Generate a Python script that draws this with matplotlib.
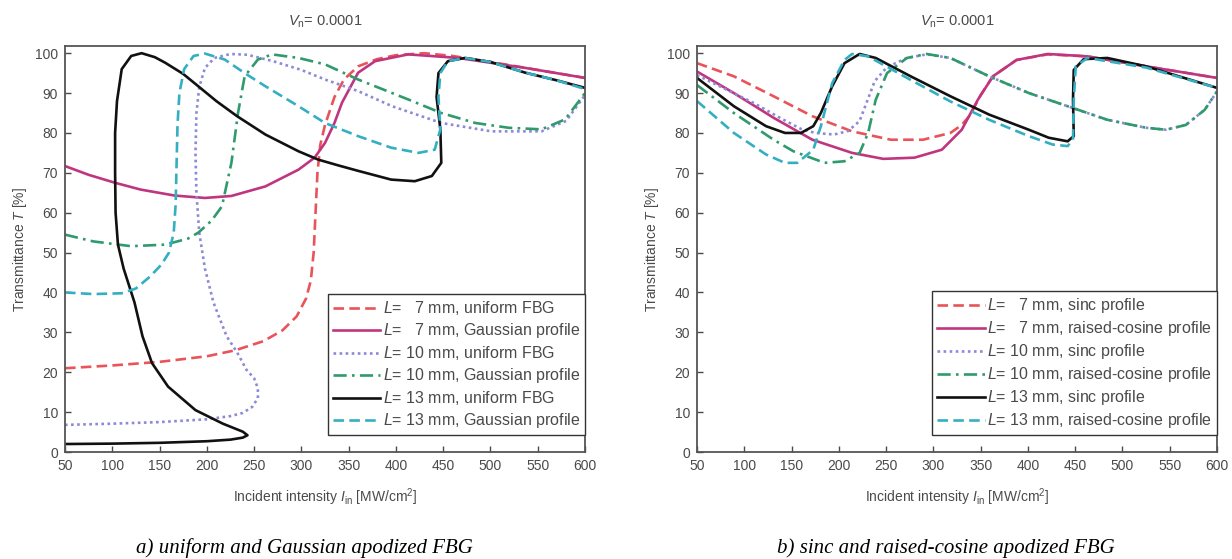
import matplotlib
matplotlib.use("Agg")
import matplotlib.pyplot as plt

plt.rcParams['font.family'] = ['Liberation Sans', 'DejaVu Sans']
plt.rcParams['mathtext.fontset'] = 'custom'
plt.rcParams['mathtext.rm'] = 'Liberation Sans'
plt.rcParams['mathtext.it'] = 'Liberation Sans:italic'

# ---- panel a) uniform and Gaussian apodized FBG ----
a7u_x = [50, 100, 150, 200, 230, 260, 280, 295, 305, 310, 313, 315, 317, 320, 325, 335, 345, 360, 380, 400, 430, 460, 500, 550, 600]
a7u_y = [21, 21.7, 22.6, 24, 25.5, 27.8, 30.5, 34, 38.5, 43, 50, 60, 70, 77, 82, 89, 93.4, 96.7, 98.5, 99.5, 100, 99.3, 97.8, 95.8, 93.8]

a7g_x = [50, 75, 103, 130, 166, 198, 226, 262, 297, 314, 325, 335, 343, 360, 378, 413, 466, 537, 600]
a7g_y = [71.7, 69.5, 67.5, 65.8, 64.3, 63.7, 64.2, 66.6, 70.8, 73.8, 77.5, 82.5, 87.6, 95.1, 98, 99.7, 98.8, 96.3, 93.8]

a10u_x = [50, 100, 150, 200, 225, 238, 248, 254, 254, 250, 242, 232, 221, 207, 198, 192, 189, 188, 189, 192, 198, 208, 225, 243, 270, 300, 325, 360, 396, 448, 501, 554, 580, 600]
a10u_y = [6.8, 7.1, 7.5, 8.2, 9, 9.8, 11.3, 13.5, 16, 18.5, 20.6, 25, 29, 37.5, 46, 55, 65, 75, 85, 91.5, 96.3, 98.8, 99.8, 99.6, 98, 95.8, 93.4, 90.5, 86.7, 82.5, 80.4, 80.4, 83, 89.5]

a10g_x = [50, 80, 120, 156, 180, 191, 205, 216, 226, 233, 240, 254, 269, 297, 325, 360, 413, 448, 484, 519, 554, 579, 600]
a10g_y = [54.5, 52.8, 51.6, 52, 53.5, 55, 58, 61.6, 72.5, 85, 94.2, 98.4, 99.7, 98.8, 97.2, 93.4, 88.4, 85, 82.5, 81.3, 80.9, 83.4, 90]

a13u_x = [50, 100, 150, 200, 225, 238, 243, 238, 217, 188, 159, 142, 132, 123.5, 112, 106, 103.5, 103, 103, 105, 110, 120, 131, 145, 156, 175, 191, 210, 232, 262, 297, 318, 340, 360, 395, 420, 438, 448, 447, 443, 445, 455, 473, 500, 537, 570, 600]
a13u_y = [2, 2.1, 2.3, 2.7, 3.1, 3.6, 4.2, 5.1, 7.1, 10.5, 16.4, 22.3, 29, 37.5, 46, 52, 60, 70, 80, 88, 96, 99.3, 100, 99, 97.6, 94.8, 91.7, 88, 84.2, 79.6, 75.4, 73.3, 71.8, 70.5, 68.3, 67.9, 69.2, 72.5, 80.9, 89, 95, 98, 98.8, 97.8, 95.1, 93.2, 91.3]

a13g_x = [50, 80, 110, 125, 140, 152, 160, 165, 167, 168, 169, 171, 176, 186, 198, 219, 240, 262, 297, 325, 360, 395, 424, 441, 447, 445, 447, 455, 473, 500, 537, 570, 600]
a13g_y = [40, 39.6, 39.8, 41, 44, 47, 50, 55, 62, 72, 82, 90, 96, 99.3, 99.9, 98.4, 95, 91.7, 86.7, 82.5, 79.2, 76.3, 75, 75.8, 80.9, 89, 95, 98, 98.8, 97.8, 95.1, 93.2, 91]

labels_a = [r'$L$=   7 mm, uniform FBG', r'$L$=   7 mm, Gaussian profile',
            r'$L$= 10 mm, uniform FBG', r'$L$= 10 mm, Gaussian profile',
            r'$L$= 13 mm, uniform FBG', r'$L$= 13 mm, Gaussian profile']

# ---- panel b) sinc and raised-cosine apodized FBG ----
b7s_x = [50, 89, 131, 172, 214, 255, 289, 318, 330, 339, 350, 363, 388, 421, 463, 525, 600]
b7s_y = [97.5, 94.2, 89.2, 84.2, 80.4, 78.3, 78.3, 80, 82, 84.5, 89.5, 94.2, 98.3, 99.7, 99.2, 96.7, 93.8]

b7r_x = [50, 89, 131, 172, 214, 247, 280, 309, 330, 347, 363, 388, 421, 463, 525, 600]
b7r_y = [95.4, 90, 83.8, 78.3, 75, 73.5, 73.8, 75.8, 80.8, 88.3, 94.2, 98.3, 99.8, 99.2, 96.7, 93.8]

b10s_x = [50, 80, 110, 140, 160, 175, 195, 210, 222, 230, 238, 251, 272, 293, 318, 359, 401, 442, 484, 525, 546, 567, 587, 600]
b10s_y = [94.5, 91, 87.5, 83.5, 81, 80, 79.6, 80.5, 83, 88, 93, 96.5, 98.8, 99.7, 98.8, 94.2, 90, 86.7, 83.3, 81.3, 80.8, 82, 85.8, 90.4]

b10r_x = [50, 89, 131, 152, 185, 206, 222, 231, 239, 251, 272, 293, 318, 359, 401, 442, 484, 525, 546, 567, 587, 600]
b10r_y = [92, 85, 78.3, 75.4, 72.5, 72.9, 75, 80, 88.3, 95, 98.8, 99.8, 98.8, 94.2, 90, 86.7, 83.3, 81.3, 80.8, 82, 85.8, 90.4]

b13s_x = [50, 89, 123, 143, 160, 173, 181, 193, 206, 222, 239, 276, 318, 359, 401, 422, 442, 448.5, 447.7, 448.5, 459, 484, 525, 600]
b13s_y = [93.8, 86.7, 81.7, 80, 80, 81.7, 85, 91.7, 97.5, 99.8, 98.8, 94.2, 89.2, 84.6, 80.8, 78.8, 77.9, 79.2, 88.3, 95.8, 98.5, 98.8, 96.7, 91.3]

b13r_x = [50, 89, 123, 143, 156, 173, 181, 193, 206, 214, 231, 276, 318, 359, 401, 426, 442, 447.7, 448.5, 450.6, 463, 525, 600]
b13r_y = [88, 80, 74.6, 72.5, 72.5, 75.8, 81.7, 92.5, 98.3, 99.8, 99.2, 93.3, 87.9, 83.3, 79.2, 77.1, 76.7, 78.3, 88.3, 96.7, 98.8, 96.4, 91.3]

labels_b = [r'$L$=   7 mm, sinc profile', r'$L$=   7 mm, raised-cosine profile',
            r'$L$= 10 mm, sinc profile', r'$L$= 10 mm, raised-cosine profile',
            r'$L$= 13 mm, sinc profile', r'$L$= 13 mm, raised-cosine profile']

# line styles shared by both panels (same order as legend)
colors = ['#e8545a', '#c0357f', '#8c8ad6', '#2f9a6c', '#111111', '#34afc2']
styles = [(0, (4, 2)), '-', (0, (1, 1.3)), (0, (5, 2, 1, 2)), '-', (0, (4, 2))]

series_a = [(a7u_x, a7u_y), (a7g_x, a7g_y), (a10u_x, a10u_y),
            (a10g_x, a10g_y), (a13u_x, a13u_y), (a13g_x, a13g_y)]
series_b = [(b7s_x, b7s_y), (b7r_x, b7r_y), (b10s_x, b10s_y),
            (b10r_x, b10r_y), (b13s_x, b13s_y), (b13r_x, b13r_y)]

fig = plt.figure(figsize=(12.32, 5.59), dpi=100)
ax1 = fig.add_axes([65/1232, 107/559, 520/1232, 406/559])
ax2 = fig.add_axes([697/1232, 107/559, 520/1232, 406/559])

grey = '#4a4a4a'

def draw_panel(ax, series, labels):
    for (x, y), c, ls, lab in zip(series, colors, styles, labels):
        ax.plot(x, y, color=c, linestyle=ls, linewidth=1.9, label=lab)
    ax.set_xlim(50, 600)
    ax.set_ylim(0, 101.8)
    ax.set_xticks(range(50, 601, 50))
    ax.set_yticks(range(0, 101, 10))
    ax.tick_params(direction='in', length=4, width=1, colors=grey,
                   labelsize=10, top=False, right=False)
    ax.tick_params(axis='y', pad=5)
    ax.tick_params(axis='x', pad=5)
    for s in ax.spines.values():
        s.set_color('#555555')
        s.set_linewidth(1.3)
    ax.set_xlabel(r'Incident intensity $I_\mathrm{in}$ [MW/cm$^2$]', fontsize=10, color=grey)
    ax.xaxis.set_label_coords(0.5, -0.084)
    ax.set_ylabel(r'Transmittance $T$ [%]', fontsize=10, color=grey)
    ax.yaxis.set_label_coords(-0.069, 0.5)
    ax.text(0.5, 1.059, r'$V_\mathrm{n}$= 0.0001', transform=ax.transAxes,
            ha='center', va='center', fontsize=10.5, color=grey)
    leg = ax.legend(loc='lower right', bbox_to_anchor=(1.0, 0.042),
                    borderaxespad=0, fontsize=11.5, handlelength=3.0,
                    handletextpad=0.15, labelspacing=0.25, fancybox=False,
                    framealpha=1, borderpad=0.3)
    leg.get_frame().set_edgecolor('#333333')
    leg.get_frame().set_linewidth(1.0)
    for t in leg.get_texts():
        t.set_color(grey)

draw_panel(ax1, series_a, labels_a)
draw_panel(ax2, series_b, labels_b)

fig.text(304/1232, 1 - 548/559, 'a) uniform and Gaussian apodized FBG',
         ha='center', va='center', fontsize=15, style='italic',
         family=['Liberation Serif', 'DejaVu Serif'])
fig.text(946/1232, 1 - 548/559, 'b) sinc and raised-cosine apodized FBG',
         ha='center', va='center', fontsize=15, style='italic',
         family=['Liberation Serif', 'DejaVu Serif'])

fig.savefig('out.png', dpi=100)
